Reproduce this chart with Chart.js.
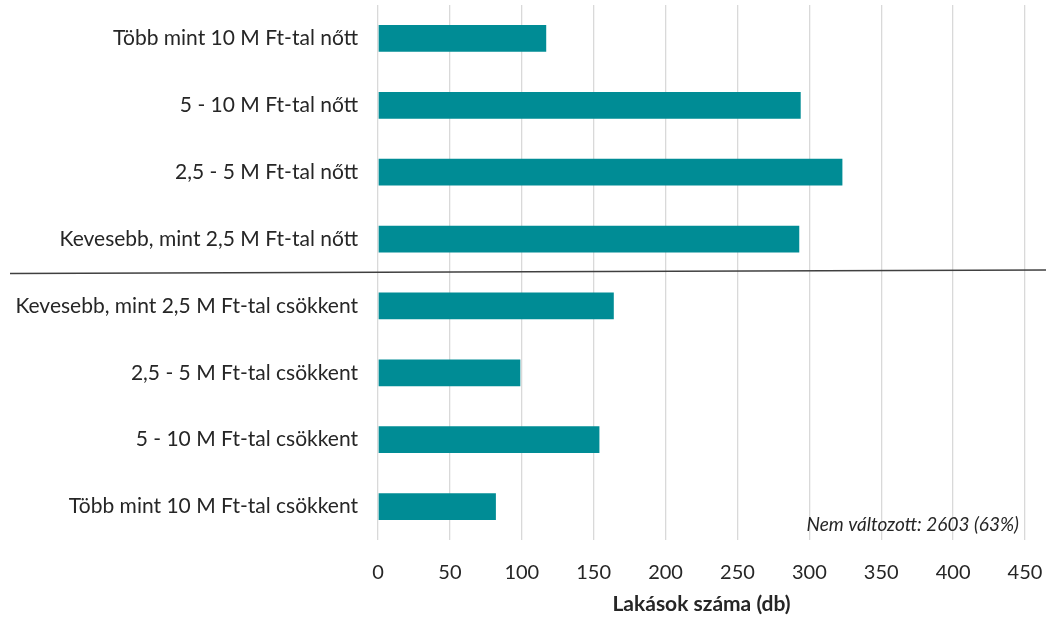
<!DOCTYPE html>
<html>
<head>
<meta charset="utf-8">
<script src="https://cdn.jsdelivr.net/npm/chart.js@4"></script>
<style>
  html, body { margin: 0; padding: 0; background: #fff; }
  #wrap { width: 1049px; height: 619px; }
</style>
</head>
<body>
<div id="wrap"><canvas id="c" width="1049" height="619"></canvas></div>
<script>
// ── DATA ────────────────────────────────────────────────────────────
var categories = [
    "Több mint 10 M Ft-tal nőtt",
    "5 - 10 M Ft-tal nőtt",
    "2,5 - 5 M Ft-tal nőtt",
    "Kevesebb, mint 2,5 M Ft-tal nőtt",
    "Kevesebb, mint 2,5 M Ft-tal csökkent",
    "2,5 - 5 M Ft-tal csökkent",
    "5 - 10 M Ft-tal csökkent",
    "Több mint 10 M Ft-tal csökkent"
];
var counts = [117, 294, 323, 293, 164, 99, 154, 82];
var xMin = 0, xMax = 450, xStep = 50;
var axisTitle = "Lakások száma (db)";
var noteText = "Nem változott: 2603 (63%)";

// ── STYLE ───────────────────────────────────────────────────────────
var BAR = "#008C95";
var TXT = "#262626";
var FONT = "Lato, 'Open Sans', sans-serif";

// divider between "nőtt" and "csökkent" groups + note text
var extras = {
    id: "extras",
    afterDraw: function (chart) {
        var ctx = chart.ctx;
        var y = chart.scales.y;
        var a = chart.chartArea;
        var yMid = (y.getPixelForValue(3) + y.getPixelForValue(4)) / 2;
        ctx.save();
        ctx.strokeStyle = "#404040";
        ctx.lineWidth = 1.5;
        ctx.beginPath();
        ctx.moveTo(10, yMid + 1);
        ctx.lineTo(1046, yMid - 2.5);
        ctx.stroke();
        ctx.fillStyle = TXT;
        ctx.font = "italic 19px " + FONT;
        ctx.textAlign = "right";
        ctx.textBaseline = "middle";
        ctx.fillText(noteText, a.right - 6, a.bottom - 15);
        ctx.restore();
    }
};

new Chart(document.getElementById("c"), {
    type: "bar",
    data: {
        labels: categories,
        datasets: [{
            data: counts,
            backgroundColor: BAR,
            borderWidth: 0,
            categoryPercentage: 0.4,
            barPercentage: 1.0
        }]
    },
    options: {
        indexAxis: "y",
        responsive: false,
        animation: false,
        layout: { padding: { top: 5, right: 24, left: 0, bottom: 0 } },
        plugins: { legend: { display: false }, tooltip: { enabled: false } },
        scales: {
            x: {
                min: xMin, max: xMax,
                ticks: { stepSize: xStep, color: TXT, font: { family: FONT, size: 20 }, padding: 21 },
                grid: { color: "#d9d9d9", lineWidth: 1.3, drawTicks: false },
                border: { display: false },
                title: { display: true, text: axisTitle, color: TXT, font: { family: FONT, size: 21, weight: "bold" }, padding: { top: 4, bottom: 2 } },
                afterFit: function (s) { s.height = 79; s.paddingLeft = 0; s.paddingRight = 0; }
            },
            y: {
                ticks: { color: TXT, font: { family: FONT, size: 21 }, padding: 20 },
                grid: { display: false, drawTicks: false },
                border: { display: false },
                afterFit: function (s) { s.width = 378; s.paddingTop = 0; s.paddingBottom = 0; }
            }
        }
    },
    plugins: [extras]
});
</script>
</body>
</html>
